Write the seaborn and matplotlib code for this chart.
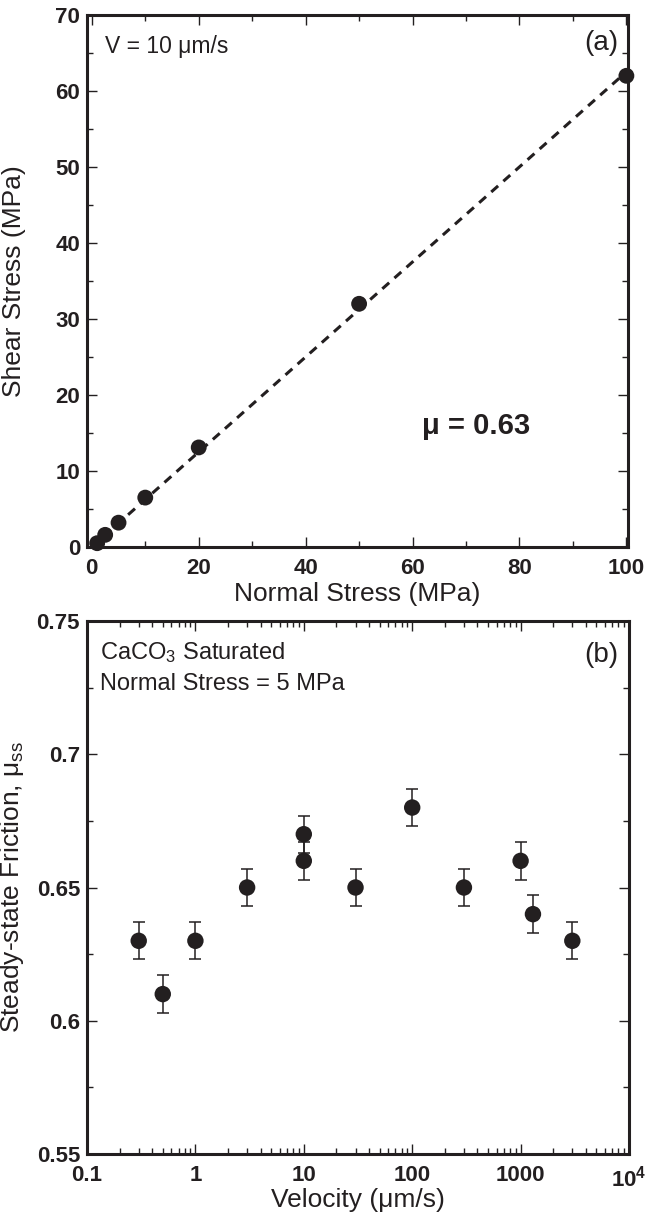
#!/usr/bin/env python3
"""
Friction data: shear vs normal stress (a) and steady-state friction vs velocity (b)
"""

import numpy as np
import pandas as pd
import matplotlib
matplotlib.use('Agg')
import matplotlib.pyplot as plt
from matplotlib.ticker import MultipleLocator, FixedLocator, FuncFormatter, LogLocator, NullFormatter
import seaborn as sns

# Panel (a) data
normal_stress = [1, 2.5, 5, 10, 20, 50, 100]
shear_stress = [0.5, 1.6, 3.2, 6.5, 13.1, 32.0, 62.0]

# Panel (b) data
velocity = [0.3, 0.5, 1, 3, 10, 10, 30, 100, 300, 1000, 1300, 3000]
mu_ss = [0.63, 0.61, 0.63, 0.65, 0.66, 0.67, 0.65, 0.68, 0.65, 0.66, 0.64, 0.63]
mu_err = [0.007] * len(mu_ss)

INK = '#231f20'

sns.set_style('ticks')
plt.rcParams['font.family'] = ['Liberation Sans', 'DejaVu Sans']
plt.rcParams['mathtext.fontset'] = 'custom'
plt.rcParams['mathtext.rm'] = 'Liberation Sans'
plt.rcParams['mathtext.it'] = 'Liberation Sans:italic'
plt.rcParams['mathtext.bf'] = 'Liberation Sans:bold'
plt.rcParams['text.color'] = INK
plt.rcParams['axes.labelcolor'] = INK

fig = plt.figure(figsize=(6.45, 12.15), dpi=100)
W, H = 645, 1215
ax_a = fig.add_axes([87 / W, 1 - 547 / H, (628 - 87) / W, (547 - 15) / H])
ax_b = fig.add_axes([87 / W, 1 - 1154 / H, (629 - 87) / W, (1154 - 621) / H])


def style_axes(ax):
    for sp in ax.spines.values():
        sp.set_visible(True)
        sp.set_linewidth(2.2)
        sp.set_color(INK)
    ax.tick_params(which='both', direction='in', top=True, right=True,
                   color=INK, width=1.0, labelcolor=INK)
    ax.tick_params(which='major', length=7, labelsize=16, pad=5)
    ax.tick_params(which='minor', length=4)
    ax.tick_params(axis='x', which='major', pad=8)
    for lab in ax.get_xticklabels() + ax.get_yticklabels():
        lab.set_fontweight('bold')


# ---------- (a) ----------
df_a = pd.DataFrame({'sn': normal_stress, 'tau': shear_stress})
x_arr = np.array(normal_stress)
y_arr = np.array(shear_stress)
mu_fit = np.sum(x_arr * y_arr) / np.sum(x_arr ** 2)
fit_df = pd.DataFrame({'sn': [0, x_arr.max()]})
fit_df['tau'] = mu_fit * fit_df['sn']

sns.lineplot(data=fit_df, x='sn', y='tau', ax=ax_a, color=INK, lw=2.2,
             linestyle=(0, (3, 2.3)), zorder=2)
sns.scatterplot(data=df_a, x='sn', y='tau', ax=ax_a, color=INK, s=130,
                edgecolor='none', zorder=3, clip_on=False)

ax_a.set_xlim(-0.9, 100.3)
ax_a.set_ylim(0, 70)
ax_a.xaxis.set_major_locator(MultipleLocator(20))
ax_a.xaxis.set_minor_locator(MultipleLocator(10))
ax_a.yaxis.set_major_locator(MultipleLocator(10))
ax_a.yaxis.set_minor_locator(MultipleLocator(5))
ax_a.set_xlabel('Normal Stress (MPa)', fontsize=19)
ax_a.set_ylabel('Shear Stress (MPa)', fontsize=19)
ax_a.xaxis.set_label_coords(0.5, -0.066)
ax_a.yaxis.set_label_coords(-0.112, 0.5)
style_axes(ax_a)

ax_a.text(0.033, 0.94, 'V = 10 μm/s', transform=ax_a.transAxes, fontsize=16.5,
          ha='left', va='center')
ax_a.text(0.982, 0.947, '(a)', transform=ax_a.transAxes, fontsize=20,
          ha='right', va='center')
ax_a.text(0.719, 0.227, 'μ = 0.63', transform=ax_a.transAxes, fontsize=21,
          fontweight='bold', ha='center', va='center')

# ---------- (b) ----------
df_b = pd.DataFrame({'v': velocity, 'mu': mu_ss, 'err': mu_err})
ax_b.errorbar(df_b['v'], df_b['mu'], yerr=df_b['err'], fmt='none',
              ecolor=INK, elinewidth=1.1, capsize=4, capthick=1.1, zorder=2)
sns.scatterplot(data=df_b, x='v', y='mu', ax=ax_b, color=INK, s=140,
                edgecolor='none', zorder=3)

ax_b.set_xscale('log')
ax_b.set_xlim(0.1, 1e4)
ax_b.set_ylim(0.55, 0.75)
ax_b.xaxis.set_major_locator(LogLocator(base=10, numticks=10))
ax_b.xaxis.set_minor_locator(LogLocator(base=10, subs=np.arange(2, 10), numticks=20))
ax_b.xaxis.set_minor_formatter(NullFormatter())
ax_b.xaxis.set_major_formatter(FuncFormatter(
    lambda v, p: r'$\mathbf{10^{4}}$' if v >= 1e4 else '%g' % v))
ax_b.yaxis.set_major_locator(FixedLocator([0.55, 0.6, 0.65, 0.7, 0.75]))
ax_b.yaxis.set_minor_locator(MultipleLocator(0.025))
ax_b.yaxis.set_major_formatter(FuncFormatter(lambda v, p: '%g' % round(v, 3)))
ax_b.set_xlabel('Velocity (μm/s)', fontsize=19)
ax_b.set_ylabel(r'Steady-state Friction, μ$_{\mathrm{ss}}$', fontsize=19)
ax_b.xaxis.set_label_coords(0.5, -0.064)
ax_b.yaxis.set_label_coords(-0.112, 0.5)
style_axes(ax_b)

ax_b.text(0.024, 0.94, r'CaCO$_3$ Saturated', transform=ax_b.transAxes,
          fontsize=17, ha='left', va='center')
ax_b.text(0.024, 0.882, 'Normal Stress = 5 MPa', transform=ax_b.transAxes,
          fontsize=17, ha='left', va='center')
ax_b.text(0.98, 0.936, '(b)', transform=ax_b.transAxes, fontsize=20,
          ha='right', va='center')

fig.savefig('out.png', dpi=100)
plt.close(fig)
